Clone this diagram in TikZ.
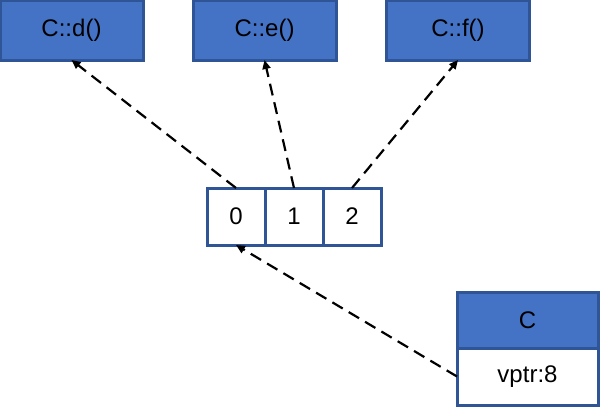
\documentclass[tikz,border=0pt]{standalone}
\usepackage{fontspec}
\setmainfont{Liberation Sans}
\usetikzlibrary{positioning, arrows.meta}

\definecolor{boxfill}{HTML}{4472C4}
\definecolor{boxline}{HTML}{2F5597}

\begin{document}
\begin{tikzpicture}[x=1pt, y=-1pt,
        func/.style = {draw=boxline, fill=boxfill, line width=3pt, outer sep=0pt,
            minimum width=143pt, minimum height=60pt, font=\fontsize{24}{28}\selectfont},
        slot/.style = {draw=boxline, fill=white, line width=3pt, outer sep=0pt,
            minimum width=58pt, minimum height=57pt, font=\fontsize{24}{28}\selectfont},
        ptr/.style = {-{Triangle[length=9pt, width=8pt]}, dashed, line width=2.2pt,
            dash pattern=on 12pt off 7pt}]
        \useasboundingbox (0,0) rectangle (600,408);

        \node[func] (D) at (71.5,30) {C::d()};
        \node[func] (E) at (264.5,30) {C::e()};
        \node[func] (F) at (458,30) {C::f()};

        \node[slot] (S0) at (236,216.5) {0};
        \node[slot, right = 0pt of S0] (S1) {1};
        \node[slot, right = 0pt of S1] (S2) {2};

        \node[func, minimum width=141pt, minimum height=56pt] (C) at (527.5,320) {C};
        \node[slot, minimum width=141pt, below = 0pt of C] (V) {vptr:8};

        \draw[ptr] (S0.north) -- (D.south);
        \draw[ptr] (S1.north) -- (E.south);
        \draw[ptr] (S2.north) -- (F.south);
        \draw[ptr] (V.west) -- (S0.south);
\end{tikzpicture}
\end{document}
